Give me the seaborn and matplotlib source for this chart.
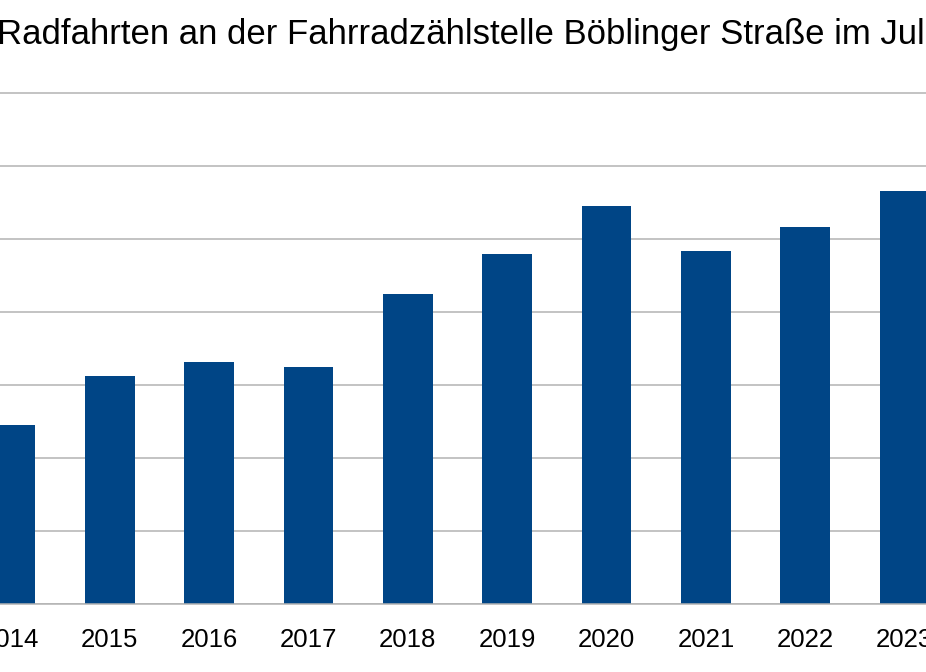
import matplotlib
matplotlib.use("Agg")
import matplotlib.pyplot as plt
from matplotlib.ticker import FixedLocator
import seaborn as sns
import pandas as pd

# ---- data (gridline step assumed 10 000) ----
years = ["2014", "2015", "2016", "2017", "2018", "2019", "2020", "2021", "2022", "2023"]
rides = [24500, 31200, 33200, 32500, 42400, 47900, 54500, 48300, 51600, 56600]
ygrid = [0, 10000, 20000, 30000, 40000, 50000, 60000, 70000]
title = "Radfahrten an der Fahrradzählstelle Böblinger Straße im Juli"

df = pd.DataFrame({"Jahr": years, "Radfahrten": rides})

sns.set_style("white")
plt.rcParams["font.family"] = ["Liberation Sans", "DejaVu Sans"]

W, H = 926, 672
fig = plt.figure(figsize=(W / 100, H / 100), dpi=100)
fig.patch.set_facecolor("white")

# axes spans the full width (the reference is a crop of a wider chart)
step_px = 99.35
x0_px = 10.5
ytop = 70500
ax_h = (604 - 93) / H * ytop / 70000
ax = fig.add_axes([0, (H - 604) / H, 1, ax_h])

sns.barplot(data=df, x="Jahr", y="Radfahrten", order=years, color="#004586",
            width=0.5, linewidth=0, saturation=1, ax=ax)

ax.set_xlim(-x0_px / step_px, (W - x0_px) / step_px)
ax.set_ylim(0, ytop)
ax.set_yticks(ygrid)
ax.set_yticklabels([])
ax.tick_params(axis="y", length=0)
ax.yaxis.grid(True, color="#b3b3b3", linewidth=1.1)
ax.set_axisbelow(True)

ax.tick_params(axis="x", which="major", length=0, pad=17.5, labelsize=18.5, labelcolor="black")
ax.xaxis.set_minor_locator(FixedLocator([i + 0.5 for i in range(len(years) - 1)]))
ax.tick_params(axis="x", which="minor", length=8, width=1.1, color="#b3b3b3", direction="out")

for s in ["top", "left", "right"]:
    ax.spines[s].set_visible(False)
ax.spines["bottom"].set_color("#b3b3b3")
ax.spines["bottom"].set_linewidth(1.1)
ax.set_xlabel("")
ax.set_ylabel("")

fig.text(-3 / W, 1 - 44 / H, title, ha="left", va="baseline", fontsize=25, color="black")

fig.savefig("out.png", dpi=100, facecolor="white")
